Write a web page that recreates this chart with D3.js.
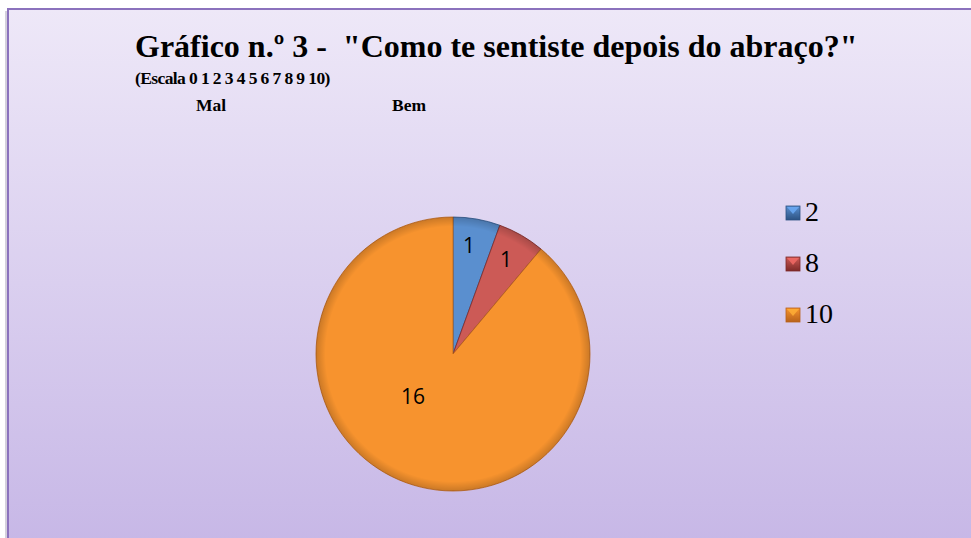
<!DOCTYPE html>
<html>
<head>
<meta charset="utf-8">
<script src="https://cdn.jsdelivr.net/npm/d3@7"></script>
<style>
  body { margin: 0; background: #ffffff; }
  svg { display: block; }
</style>
</head>
<body>
<svg id="chart" width="971" height="538"></svg>
<script>
// data
const categories = ["2", "8", "10"];
const counts = [1, 1, 16];
const sliceTop = ["#5a8fcf", "#cc5a56", "#f7932e"];
const sliceBottom = ["#3b6dab", "#a83e3b", "#dc761d"];
const sliceEdge = ["#2c5282", "#7e2a28", "#b8621a"];

const svg = d3.select("#chart");
const W = 971, H = 538;

const defs = svg.append("defs");

// background gradient
const bg = defs.append("linearGradient").attr("id", "bg")
  .attr("x1", 0).attr("y1", 0).attr("x2", 0).attr("y2", 1);
bg.append("stop").attr("offset", "0%").attr("stop-color", "#eee8f8");
bg.append("stop").attr("offset", "100%").attr("stop-color", "#c6b6e6");

// frame shadow + frame
svg.append("rect")
  .attr("x", 5).attr("y", 11).attr("width", W).attr("height", H)
  .attr("fill", "#d4d0dc");
svg.append("rect")
  .attr("x", 8).attr("y", 9).attr("width", W + 10).attr("height", H + 10)
  .attr("fill", "url(#bg)")
  .attr("stroke", "#8b72bd").attr("stroke-width", 2);

// title
const title = svg.append("g").attr("font-family", "'Liberation Serif', 'Times New Roman', serif")
  .attr("font-weight", "bold").attr("fill", "#000");
title.append("text").attr("x", 135).attr("y", 57).attr("font-size", 32)
  .attr("xml:space", "preserve")
  .text("Gráfico n.º 3 -  \"Como te sentiste depois do abraço?\"");
title.append("text").attr("x", 135).attr("y", 84).attr("font-size", 17.5)
  .attr("letter-spacing", -0.6)
  .text("(Escala 0 1 2 3 4 5 6 7 8 9 10)");
title.append("text").attr("x", 196).attr("y", 111).attr("font-size", 17.5).text("Mal");
title.append("text").attr("x", 392).attr("y", 111).attr("font-size", 17.5).text("Bem");

// pie
const cx = 453, cy = 354, r = 137;
const data = categories.map((c, i) => ({ cat: c, value: counts[i], i }));

const pie = d3.pie().value(d => d.value).sort(null);
const arcs = pie(data);
const arc = d3.arc().innerRadius(0).outerRadius(r);

data.forEach((d, i) => {
  const g = defs.append("linearGradient").attr("id", "slice" + i)
    .attr("gradientUnits", "userSpaceOnUse")
    .attr("x1", cx - r * 0.3).attr("y1", cy - r).attr("x2", cx + r * 0.3).attr("y2", cy + r);
  g.append("stop").attr("offset", "0%").attr("stop-color", sliceTop[i]);
  g.append("stop").attr("offset", "100%").attr("stop-color", sliceBottom[i]);
});

// bevel: darker rim
const rim = defs.append("radialGradient").attr("id", "rim")
  .attr("gradientUnits", "userSpaceOnUse")
  .attr("cx", 0).attr("cy", 0).attr("r", r);
rim.append("stop").attr("offset", "0%").attr("stop-color", "#000").attr("stop-opacity", 0);
rim.append("stop").attr("offset", "93%").attr("stop-color", "#000").attr("stop-opacity", 0);
rim.append("stop").attr("offset", "100%").attr("stop-color", "#000").attr("stop-opacity", 0.18);

const pieG = svg.append("g").attr("transform", `translate(${cx},${cy})`);

pieG.selectAll("path.slice")
  .data(arcs)
  .join("path")
  .attr("class", "slice")
  .attr("d", arc)
  .attr("fill", d => `url(#slice${d.data.i})`)
  .attr("stroke", d => sliceEdge[d.data.i])
  .attr("stroke-width", 0.8)
  .attr("stroke-linejoin", "round");

pieG.append("circle").attr("r", r).attr("fill", "url(#rim)").attr("pointer-events", "none");

// data labels
const labelPos = [[16, -101], [53, -87], [-40, 50]];
pieG.selectAll("text.lbl")
  .data(arcs)
  .join("text")
  .attr("class", "lbl")
  .attr("x", (d, i) => labelPos[i][0])
  .attr("y", (d, i) => labelPos[i][1])
  .attr("text-anchor", "middle")
  .attr("font-family", "'Open Sans', 'Liberation Sans', sans-serif")
  .attr("font-size", 21)
  .attr("fill", "#000")
  .text(d => d.data.value);

// legend
const legend = svg.append("g").attr("transform", "translate(786,206)");
const item = legend.selectAll("g.item")
  .data(data)
  .join("g")
  .attr("class", "item")
  .attr("transform", (d, i) => `translate(0,${i * 51})`);

item.each(function (d, i) {
  const g = d3.select(this);
  const lg = defs.append("linearGradient").attr("id", "leg" + i)
    .attr("x1", 0).attr("y1", 0).attr("x2", 0).attr("y2", 1);
  lg.append("stop").attr("offset", "0%").attr("stop-color", sliceTop[i]);
  lg.append("stop").attr("offset", "100%").attr("stop-color", sliceEdge[i]);
  g.append("rect").attr("width", 14).attr("height", 14)
    .attr("fill", `url(#leg${i})`)
    .attr("stroke", sliceEdge[i]).attr("stroke-width", 0.8);
  g.append("path").attr("d", "M1,1 L13,1 L7,8 Z")
    .attr("fill", d3.color(sliceTop[i]).brighter(0.5)).attr("opacity", 0.8);
});

item.append("text")
  .attr("x", 19).attr("y", 15)
  .attr("font-family", "'Liberation Serif', 'Times New Roman', serif")
  .attr("font-size", 28)
  .attr("fill", "#000")
  .text(d => d.cat);
</script>
</body>
</html>
